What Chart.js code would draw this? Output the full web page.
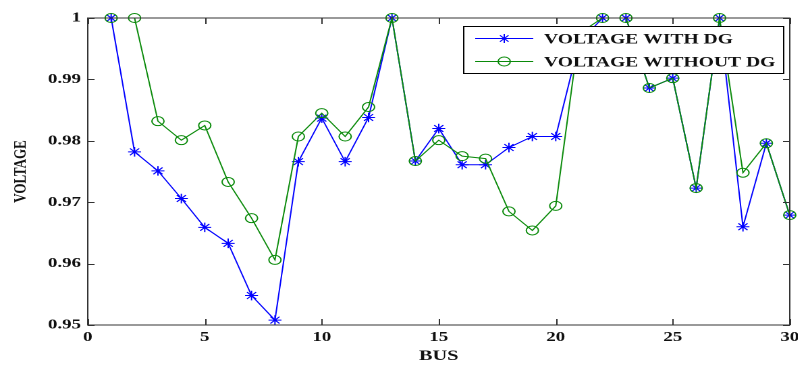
<!DOCTYPE html>
<html>
<head>
<meta charset="utf-8">
<script src="https://cdn.jsdelivr.net/npm/chart.js@4/dist/chart.umd.min.js"></script>
<style>
  html, body { margin: 0; padding: 0; background: #fff; overflow: hidden; }
  .wrap { width: 591px; height: 365px; transform: scaleX(1.35); transform-origin: 0 0; }
</style>
</head>
<body>
<div class="wrap"><canvas id="voltChart" width="591" height="365"></canvas></div>
<script>
// bus voltage profile
const buses = [1, 2, 3, 4, 5, 6, 7, 8, 9, 10, 11, 12, 13, 14, 15, 16, 17, 18, 19, 20, 21, 22, 23, 24, 25, 26, 27, 28, 29, 30];
const voltWithDG = [1.0, 0.9782, 0.9751, 0.9706, 0.9659, 0.9633, 0.9548, 0.9508, 0.9766, 0.9837,
    0.9766, 0.9838, 1.0, 0.9767, 0.9820, 0.9761, 0.9761, 0.9789, 0.9807, 0.9807,
    0.9960, 1.0, 1.0, 0.9886, 0.9902, 0.9723, 1.0, 0.9660, 0.9796, 0.9679];
const voltWithoutDG = [1.0, 1.0, 0.9832, 0.9801, 0.9825, 0.9733, 0.9674, 0.9606, 0.9807, 0.9845,
    0.9807, 0.9855, 1.0, 0.9767, 0.9801, 0.9775, 0.9771, 0.9685, 0.9654, 0.9694,
    0.9975, 1.0, 1.0, 0.9886, 0.9902, 0.9723, 1.0, 0.9748, 0.9796, 0.9679];
const xTicks = [0, 5, 10, 15, 20, 25, 30];
const yTicks = [0.95, 0.96, 0.97, 0.98, 0.99, 1];
const seriesNames = ['VOLTAGE WITH DG', 'VOLTAGE WITHOUT DG'];

const BLUE = '#0000ff';
const GREEN = '#0a8a0a';
const FONT = "'Liberation Serif', 'Times New Roman', serif";

// ========== Frame + inward ticks + legend ==========

const frameAndLegend = {
    id: 'frameAndLegend',
    afterDatasetsDraw(chart) {
        const { ctx, chartArea: a, scales } = chart;
        ctx.save();
        ctx.strokeStyle = '#333';
        ctx.lineWidth = 1;
        ctx.strokeRect(a.left, a.top, a.right - a.left, a.bottom - a.top);
        ctx.beginPath();
        xTicks.forEach(v => {
            const px = Math.round(scales.x.getPixelForValue(v)) + 0.5;
            ctx.moveTo(px, a.bottom); ctx.lineTo(px, a.bottom - 6);
            ctx.moveTo(px, a.top); ctx.lineTo(px, a.top + 6);
        });
        yTicks.forEach(v => {
            const py = Math.round(scales.y.getPixelForValue(v)) + 0.5;
            ctx.moveTo(a.left, py); ctx.lineTo(a.left + 5, py);
            ctx.moveTo(a.right, py); ctx.lineTo(a.right - 5, py);
        });
        ctx.stroke();

        // legend box
        const bx = 343, by = 26, bw = 237, bh = 47;
        ctx.fillStyle = '#fff';
        ctx.fillRect(bx, by, bw, bh);
        ctx.strokeStyle = '#000';
        ctx.strokeRect(bx + 0.5, by + 0.5, bw, bh);

        const rows = [
            { y: 38.5, color: BLUE, style: 'star', text: seriesNames[0] },
            { y: 61.5, color: GREEN, style: 'circle', text: seriesNames[1] }
        ];
        rows.forEach(r => {
            ctx.strokeStyle = r.color;
            ctx.lineWidth = 1;
            ctx.beginPath();
            ctx.moveTo(352, r.y); ctx.lineTo(395, r.y);
            ctx.stroke();
            const cx = 373.5;
            ctx.beginPath();
            if (r.style === 'star') {
                const s = 4.5;
                ctx.moveTo(cx - s, r.y); ctx.lineTo(cx + s, r.y);
                ctx.moveTo(cx, r.y - s); ctx.lineTo(cx, r.y + s);
                const d = s * 0.707;
                ctx.moveTo(cx - d, r.y - d); ctx.lineTo(cx + d, r.y + d);
                ctx.moveTo(cx - d, r.y + d); ctx.lineTo(cx + d, r.y - d);
            } else {
                ctx.arc(cx, r.y, 4.5, 0, Math.PI * 2);
            }
            ctx.stroke();
            ctx.fillStyle = '#111';
            ctx.font = `bold 14.5px ${FONT}`;
            ctx.textBaseline = 'middle';
            ctx.textAlign = 'left';
            ctx.fillText(r.text, 403, r.y + 1);
        });
        ctx.restore();
    }
};

// ========== Chart ==========

const ctx = document.getElementById('voltChart').getContext('2d');

new Chart(ctx, {
    type: 'line',
    data: {
        datasets: [{
            label: seriesNames[0],
            data: buses.map((b, i) => ({ x: b, y: voltWithDG[i] })),
            borderColor: BLUE,
            borderWidth: 1,
            pointStyle: 'star',
            pointRadius: 4.8,
            pointBorderColor: BLUE,
            pointBorderWidth: 1,
            pointBackgroundColor: BLUE,
            tension: 0,
            clip: false,
            order: 2
        }, {
            label: seriesNames[1],
            data: buses.map((b, i) => ({ x: b, y: voltWithoutDG[i] })),
            borderColor: GREEN,
            borderWidth: 1,
            pointStyle: 'circle',
            pointRadius: 4.5,
            pointBorderColor: GREEN,
            pointBorderWidth: 1,
            pointBackgroundColor: 'rgba(0,0,0,0)',
            tension: 0,
            clip: false,
            order: 1
        }]
    },
    options: {
        responsive: false,
        animation: false,
        devicePixelRatio: 2,
        layout: { padding: { left: 0, right: 6, top: 18, bottom: 0 } },
        scales: {
            x: {
                type: 'linear',
                min: 0,
                max: 30,
                afterBuildTicks: s => { s.ticks = xTicks.map(v => ({ value: v })); },
                afterFit: s => { s.height = 40; s.paddingLeft = 0; s.paddingRight = 0; },
                grid: { display: false, drawTicks: false },
                border: { display: false },
                ticks: {
                    padding: 4,
                    color: '#111',
                    font: { family: FONT, size: 14, weight: 'bold' },
                    maxRotation: 0
                },
                title: {
                    display: true,
                    text: 'BUS',
                    color: '#111',
                    font: { family: FONT, size: 15, weight: 'bold' },
                    padding: { top: 0, bottom: 0 }
                }
            },
            y: {
                min: 0.95,
                max: 1,
                afterBuildTicks: s => { s.ticks = yTicks.map(v => ({ value: v })); },
                afterFit: s => { s.width = 65; },
                grid: { display: false, drawTicks: false },
                border: { display: false },
                ticks: {
                    padding: 5,
                    color: '#111',
                    font: { family: FONT, size: 14, weight: 'bold' },
                    callback: v => String(Number(v.toFixed(2)))
                },
                title: {
                    display: true,
                    text: 'VOLTAGE',
                    color: '#111',
                    font: { family: FONT, size: 13, weight: 'bold' },
                    padding: { top: 8, bottom: 0 }
                }
            }
        },
        plugins: {
            legend: { display: false },
            tooltip: { enabled: false }
        }
    },
    plugins: [frameAndLegend]
});
</script>
</body>
</html>
